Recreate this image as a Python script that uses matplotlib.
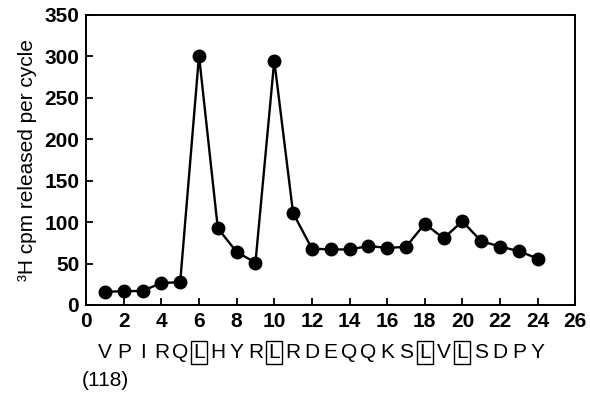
import matplotlib
matplotlib.use("Agg")
import matplotlib.pyplot as plt

cycles = list(range(1, 25))
cpm = [16, 16.5, 17, 26.5, 27.5, 301, 92.5, 64, 51, 295, 111, 68,
       67, 67, 71, 69, 70, 98, 80.5, 101, 77, 70.5, 65, 56]
residues = list("VPIRQLHYRLRDEQQKSLVLSDPY")
boxed = [6, 10, 18, 20]
start_label = "(118)"

plt.rcParams["font.family"] = ["Liberation Sans", "DejaVu Sans"]

fig = plt.figure(figsize=(5.9, 3.94), dpi=100)
ax = fig.add_axes([0.146, 0.226, 0.829, 0.736])

ax.plot(cycles, cpm, color="black", linewidth=1.7, marker="o",
        markersize=9, markerfacecolor="black", markeredgecolor="black")

ax.set_xlim(0, 26)
ax.set_ylim(0, 350)
ax.set_xticks(range(0, 27, 2))
ax.set_yticks(range(0, 351, 50))
ax.tick_params(direction="in", length=5, width=1.3, labelsize=15,
               top=False, right=False, pad=5)
for lab in ax.get_xticklabels() + ax.get_yticklabels():
    lab.set_fontweight("bold")
for s in ax.spines.values():
    s.set_linewidth(1.4)

ax.set_ylabel("³H cpm released per cycle", fontsize=15, labelpad=5)

# sequence under the x axis
for x, aa in zip(cycles, residues):
    kw = {}
    if x in boxed:
        kw["bbox"] = dict(boxstyle="square,pad=0.1", fc="none", ec="black", lw=1.0)
    ax.text(x, -0.165, aa, transform=ax.get_xaxis_transform(), ha="center",
            va="center", fontsize=15, **kw)
ax.text(1, -0.26, start_label, transform=ax.get_xaxis_transform(),
        ha="center", va="center", fontsize=15)

fig.savefig("out.png", dpi=100)
